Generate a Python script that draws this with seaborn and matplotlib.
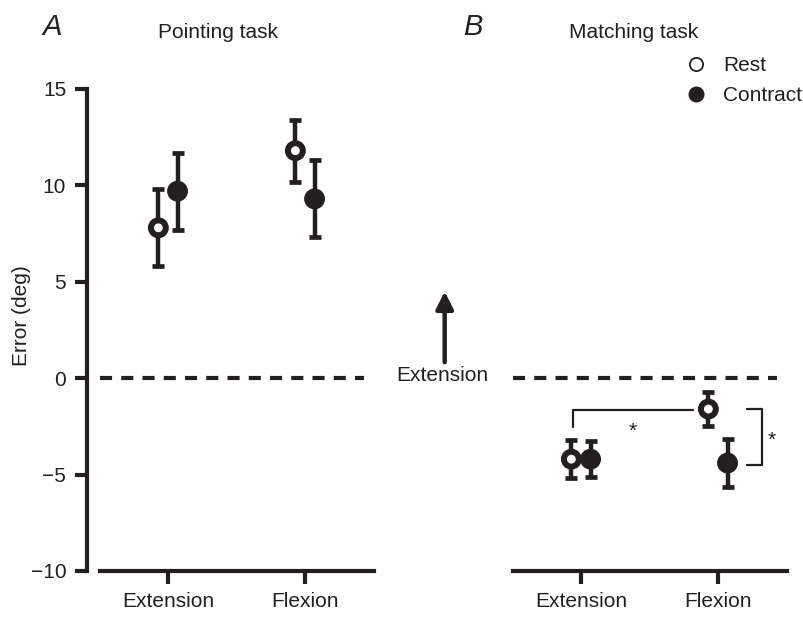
import numpy as np
import pandas as pd
import matplotlib
matplotlib.use("Agg")
import matplotlib.pyplot as plt
from matplotlib.lines import Line2D
import seaborn as sns

# ---------------- data ----------------
movements = ["Extension", "Flexion"]
conditions = ["Rest", "Contract"]
pointing_mean = {"Rest": [7.8, 11.8], "Contract": [9.7, 9.3]}
pointing_err = {"Rest": [2.0, 1.6], "Contract": [2.0, 2.0]}
matching_mean = {"Rest": [-4.2, -1.6], "Contract": [-4.2, -4.4]}
matching_err = {"Rest": [1.0, 0.9], "Contract": [0.95, 1.25]}
y_ticks = [-10, -5, 0, 5, 10, 15]
y_tick_labels = ["\u221210", "\u22125", "0", "5", "10", "15"]

DARK = "#231f20"
W, H = 804, 617

sns.set_theme(style="white")
plt.rcParams["font.family"] = ["Liberation Sans", "DejaVu Sans"]
plt.rcParams["text.color"] = DARK
plt.rcParams["axes.labelcolor"] = DARK
plt.rcParams["xtick.color"] = DARK
plt.rcParams["ytick.color"] = DARK


def build(means, errs):
    rows = []
    for c in conditions:
        for i, m in enumerate(movements):
            rows.append({"movement": m, "idx": i, "condition": c,
                         "mean": means[c][i], "err": errs[c][i]})
    return pd.DataFrame(rows)


dfA = build(pointing_mean, pointing_err)
dfB = build(matching_mean, matching_err)
offset = {"Rest": -0.07, "Contract": 0.07}
for d in (dfA, dfB):
    d["x"] = d["idx"] + d["condition"].map(offset)

fig = plt.figure(figsize=(W / 100, H / 100), dpi=100)
bottom = (H - 571) / H
height = (571 - 89) / H
axA = fig.add_axes([87 / W, bottom, 287 / W, height])
axB = fig.add_axes([500 / W, bottom, 287 / W, height])

for ax, d in ((axA, dfA), (axB, dfB)):
    ax.set_xlim(-0.591, 1.504)
    ax.set_ylim(-10, 15)
    ax.errorbar(d["x"], d["mean"], yerr=d["err"], fmt="none", ecolor=DARK,
                elinewidth=3.2, capsize=4.3, capthick=3.4, zorder=2)
    sns.scatterplot(data=d, x="x", y="mean", hue="condition",
                    palette={"Rest": "white", "Contract": DARK},
                    edgecolor=DARK, linewidth=4.3, s=115, legend=False,
                    zorder=3, ax=ax)
    ax.hlines(0, -0.496, 1.43, colors=DARK, linewidth=3,
              linestyles=(0, (2.9, 2.2)), zorder=1)
    for s in ("top", "right"):
        ax.spines[s].set_visible(False)
    ax.spines["bottom"].set_bounds(-0.496, 1.504)
    ax.spines["bottom"].set_linewidth(3)
    ax.spines["bottom"].set_color(DARK)
    ax.set_xticks(range(len(movements)))
    ax.set_xticklabels(movements, fontsize=15)
    ax.tick_params(axis="x", length=9, width=3, pad=6, direction="out",
                   bottom=True)
    ax.set_xlabel("")
    ax.set_ylabel("")

axA.spines["left"].set_linewidth(3)
axA.spines["left"].set_color(DARK)
axA.set_yticks(y_ticks)
axA.set_yticklabels(y_tick_labels, fontsize=15)
axA.tick_params(axis="y", length=9, width=3, pad=6, direction="out", left=True)
axB.spines["left"].set_visible(False)
axB.set_yticks([])

fig.text(22 / W, 1 - 316 / H, "Error (deg)", rotation=90, fontsize=15,
         ha="center", va="center")

# panel letters / titles
fig.text(52 / W, 1 - 27 / H, "A", fontsize=21, style="italic",
         ha="center", va="center")
fig.text(473 / W, 1 - 27 / H, "B", fontsize=21, style="italic",
         ha="center", va="center")
fig.text(218 / W, 1 - 32 / H, "Pointing task", fontsize=15,
         ha="center", va="center")
fig.text(634 / W, 1 - 32 / H, "Matching task", fontsize=15,
         ha="center", va="center")

# direction arrow
axA.annotate("", xy=(2.02, 4.5), xytext=(2.02, 0.83),
             arrowprops=dict(arrowstyle="-|>", lw=3.2, color=DARK,
                             mutation_scale=26, shrinkA=0, shrinkB=0),
             annotation_clip=False)
axA.text(2.005, 0.16, "Extension", fontsize=15, ha="center", va="center",
         clip_on=False)

# significance brackets (panel B)
axB.plot([-0.058, -0.058, 0.818], [-2.54, -1.66, -1.66], color=DARK, lw=1.6,
         clip_on=False)
axB.text(0.38, -2.75, "*", fontsize=15, ha="center", va="center")
axB.plot([1.21, 1.32, 1.32, 1.21], [-1.6, -1.6, -4.5, -4.5], color=DARK,
         lw=1.6, clip_on=False)
axB.text(1.39, -3.2, "*", fontsize=15, ha="center", va="center",
         clip_on=False)

# legend
handles = [
    Line2D([], [], marker="o", linestyle="none", markersize=9.5,
           markerfacecolor="white", markeredgecolor=DARK, markeredgewidth=1.3),
    Line2D([], [], marker="o", linestyle="none", markersize=11.5,
           markerfacecolor=DARK, markeredgecolor=DARK, markeredgewidth=0),
]
fig.legend(handles, conditions, loc="upper left",
           bbox_to_anchor=(686 / W, 1 - 56 / H), frameon=False, fontsize=15,
           handlelength=1.0, handletextpad=0.8, labelspacing=0.55,
           borderpad=0, borderaxespad=0)

fig.savefig("out.png", dpi=100)
